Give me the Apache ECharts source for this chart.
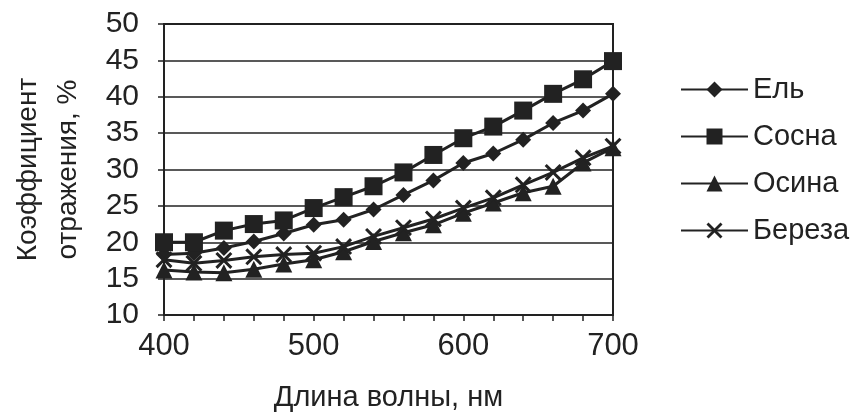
<!DOCTYPE html>
<html>
<head>
<meta charset="utf-8">
<script src="https://cdn.jsdelivr.net/npm/echarts@6/dist/echarts.min.js"></script>
<style>
    html, body { margin: 0; padding: 0; background: #fff; }
    #chart { width: 855px; height: 418px; }
</style>
</head>
<body>
<div id="chart"></div>
<script>
// длины волн, нм
var wavelengths = [400, 420, 440, 460, 480, 500, 520, 540, 560, 580, 600, 620, 640, 660, 680, 700];
// коэффициент отражения, %
var el = [18.3, 18.5, 19.2, 20.1, 21.2, 22.4, 23.1, 24.5, 26.5, 28.5, 30.9, 32.2, 34.1, 36.4, 38.1, 40.4];
var sosna = [20.0, 20.0, 21.6, 22.5, 23.0, 24.7, 26.2, 27.7, 29.6, 32.0, 34.3, 35.9, 38.1, 40.4, 42.4, 44.9];
var osina = [16.2, 15.9, 15.8, 16.3, 17.0, 17.6, 18.7, 20.1, 21.3, 22.4, 24.0, 25.4, 26.8, 27.7, 30.9, 33.0];
var bereza = [17.6, 17.1, 17.5, 18.0, 18.3, 18.5, 19.4, 20.8, 22.0, 23.2, 24.7, 26.1, 27.9, 29.6, 31.6, 33.2];

var seriesNames = ['Ель', 'Сосна', 'Осина', 'Береза'];

var INK = '#222';
var FONT = 'Liberation Sans, Arial, sans-serif';
var crossPath = 'path://M0,2.5L2.5,0L10,7.5L17.5,0L20,2.5L12.5,10L20,17.5L17.5,20L10,12.5L2.5,20L0,17.5L7.5,10Z';

function pairs(values) {
    return values.map(function (v, i) {
        return [wavelengths[i], v];
    });
}

function makeSeries(name, values, symbol, size) {
    return {
        name: name,
        type: 'line',
        data: pairs(values),
        symbol: symbol,
        symbolSize: size,
        lineStyle: { color: INK, width: 3 },
        itemStyle: { color: INK, borderColor: INK, borderWidth: 0 },
        emphasis: { disabled: true },
        animation: false
    };
}

var myChart = echarts.init(document.getElementById('chart'));
var option = {
    backgroundColor: '#fff',
    textStyle: { fontFamily: FONT, color: INK },
    grid: {
        left: 158,
        right: 242,
        top: 24,
        bottom: 103,
        show: true,
        borderColor: INK,
        borderWidth: 2
    },
    legend: {
        orient: 'vertical',
        left: 675,
        top: 70,
        itemWidth: 67,
        itemHeight: 20,
        itemGap: 18,
        data: seriesNames,
        textStyle: { fontSize: 29, color: INK, fontFamily: FONT }
    },
    xAxis: {
        type: 'value',
        min: 400,
        max: 700,
        interval: 100,
        name: 'Длина волны, нм',
        nameLocation: 'middle',
        nameGap: 68,
        nameTextStyle: { fontSize: 29, color: INK, fontFamily: FONT },
        axisLine: { lineStyle: { color: INK, width: 2 } },
        axisTick: { show: true, length: 6, lineStyle: { color: INK, width: 1.5 } },
        minorTick: { show: true, splitNumber: 5, length: 6, lineStyle: { color: INK, width: 1.5 } },
        splitLine: { show: false },
        axisLabel: { fontSize: 31, color: INK, margin: 16, fontFamily: FONT }
    },
    yAxis: {
        type: 'value',
        min: 10,
        max: 50,
        interval: 5,
        name: 'Коэффициент\nотражения, %',
        nameLocation: 'middle',
        nameGap: 76,
        nameTextStyle: { fontSize: 28, lineHeight: 40, color: INK, fontFamily: FONT },
        axisLine: { show: true, lineStyle: { color: INK, width: 2 } },
        axisTick: { show: true, length: 6, lineStyle: { color: INK, width: 1.5 } },
        splitLine: { show: true, lineStyle: { color: INK, width: 1.5 } },
        axisLabel: { fontSize: 30, color: INK, margin: 25, fontFamily: FONT }
    },
    series: [
        makeSeries('Ель', el, 'diamond', 16),
        makeSeries('Сосна', sosna, 'rect', 18),
        makeSeries('Осина', osina, 'triangle', 17),
        makeSeries('Береза', bereza, crossPath, 17)
    ]
};
if (option && typeof option === "object") {
    myChart.setOption(option, true);
}
</script>
</body>
</html>
